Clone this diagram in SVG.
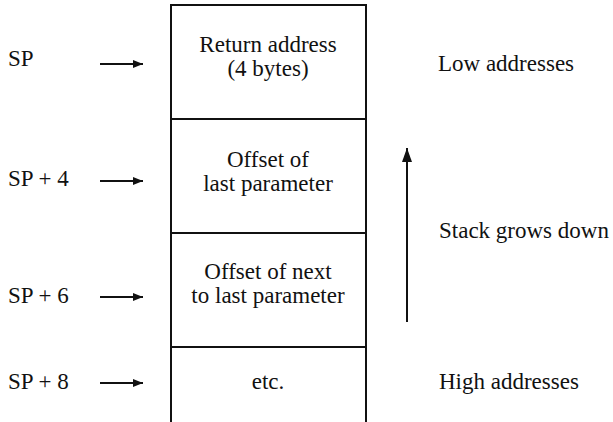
<svg xmlns="http://www.w3.org/2000/svg" width="613" height="422" viewBox="0 0 613 422">
<style>
.c{text-anchor:middle}
.ln{stroke:#111;stroke-width:2;fill:none}
</style>
<defs>
<marker id="ah" viewBox="0 0 10 8" refX="10" refY="4" markerWidth="10" markerHeight="8" markerUnits="userSpaceOnUse" orient="auto">
<path d="M0,0 L10,4 L0,8 Z" fill="#111"/>
</marker>
<marker id="ah2" viewBox="0 0 14 10" refX="14" refY="5" markerWidth="14" markerHeight="10" markerUnits="userSpaceOnUse" orient="auto">
<path d="M0,0 L14,5 L0,10 Z" fill="#111"/>
</marker>
</defs>
<rect width="613" height="422" fill="#fff"/>
<g font-family="Liberation Serif, DejaVu Serif, serif" font-size="23" fill="#111">
<g id="stack">
<path class="ln" d="M171,422 V5 H366 V422"/>
</g>
<g id="cell1">
<line class="ln" x1="171" y1="119" x2="366" y2="119"/>
<text class="c" x="268" y="52">Return address</text>
<text class="c" x="268" y="76">(4 bytes)</text>
</g>
<g id="cell2">
<line class="ln" x1="171" y1="233" x2="366" y2="233"/>
<text class="c" x="268" y="167">Offset of</text>
<text class="c" x="268" y="191">last parameter</text>
</g>
<g id="cell3">
<line class="ln" x1="171" y1="347" x2="366" y2="347"/>
<text class="c" x="268" y="279">Offset of next</text>
<text class="c" x="268" y="303">to last parameter</text>
</g>
<g id="cell4">
<text class="c" x="268" y="389">etc.</text>
</g>
<g id="labels">
<text x="8" y="66">SP</text>
<text x="8" y="186">SP + 4</text>
<text x="8" y="303">SP + 6</text>
<text x="8" y="389">SP + 8</text>
<text x="438" y="71">Low addresses</text>
<text x="439" y="238">Stack grows down</text>
<text x="439" y="389">High addresses</text>
</g>
</g>
<g id="connectors">
<line x1="100" y1="64" x2="143" y2="64" stroke="#111" stroke-width="2" marker-end="url(#ah)"/>
<line x1="100" y1="181" x2="143" y2="181" stroke="#111" stroke-width="2" marker-end="url(#ah)"/>
<line x1="100" y1="297" x2="143" y2="297" stroke="#111" stroke-width="2" marker-end="url(#ah)"/>
<line x1="100" y1="383" x2="143" y2="383" stroke="#111" stroke-width="2" marker-end="url(#ah)"/>
<line x1="407" y1="322" x2="407" y2="148" stroke="#111" stroke-width="2" marker-end="url(#ah2)"/>
</g>
</svg>
